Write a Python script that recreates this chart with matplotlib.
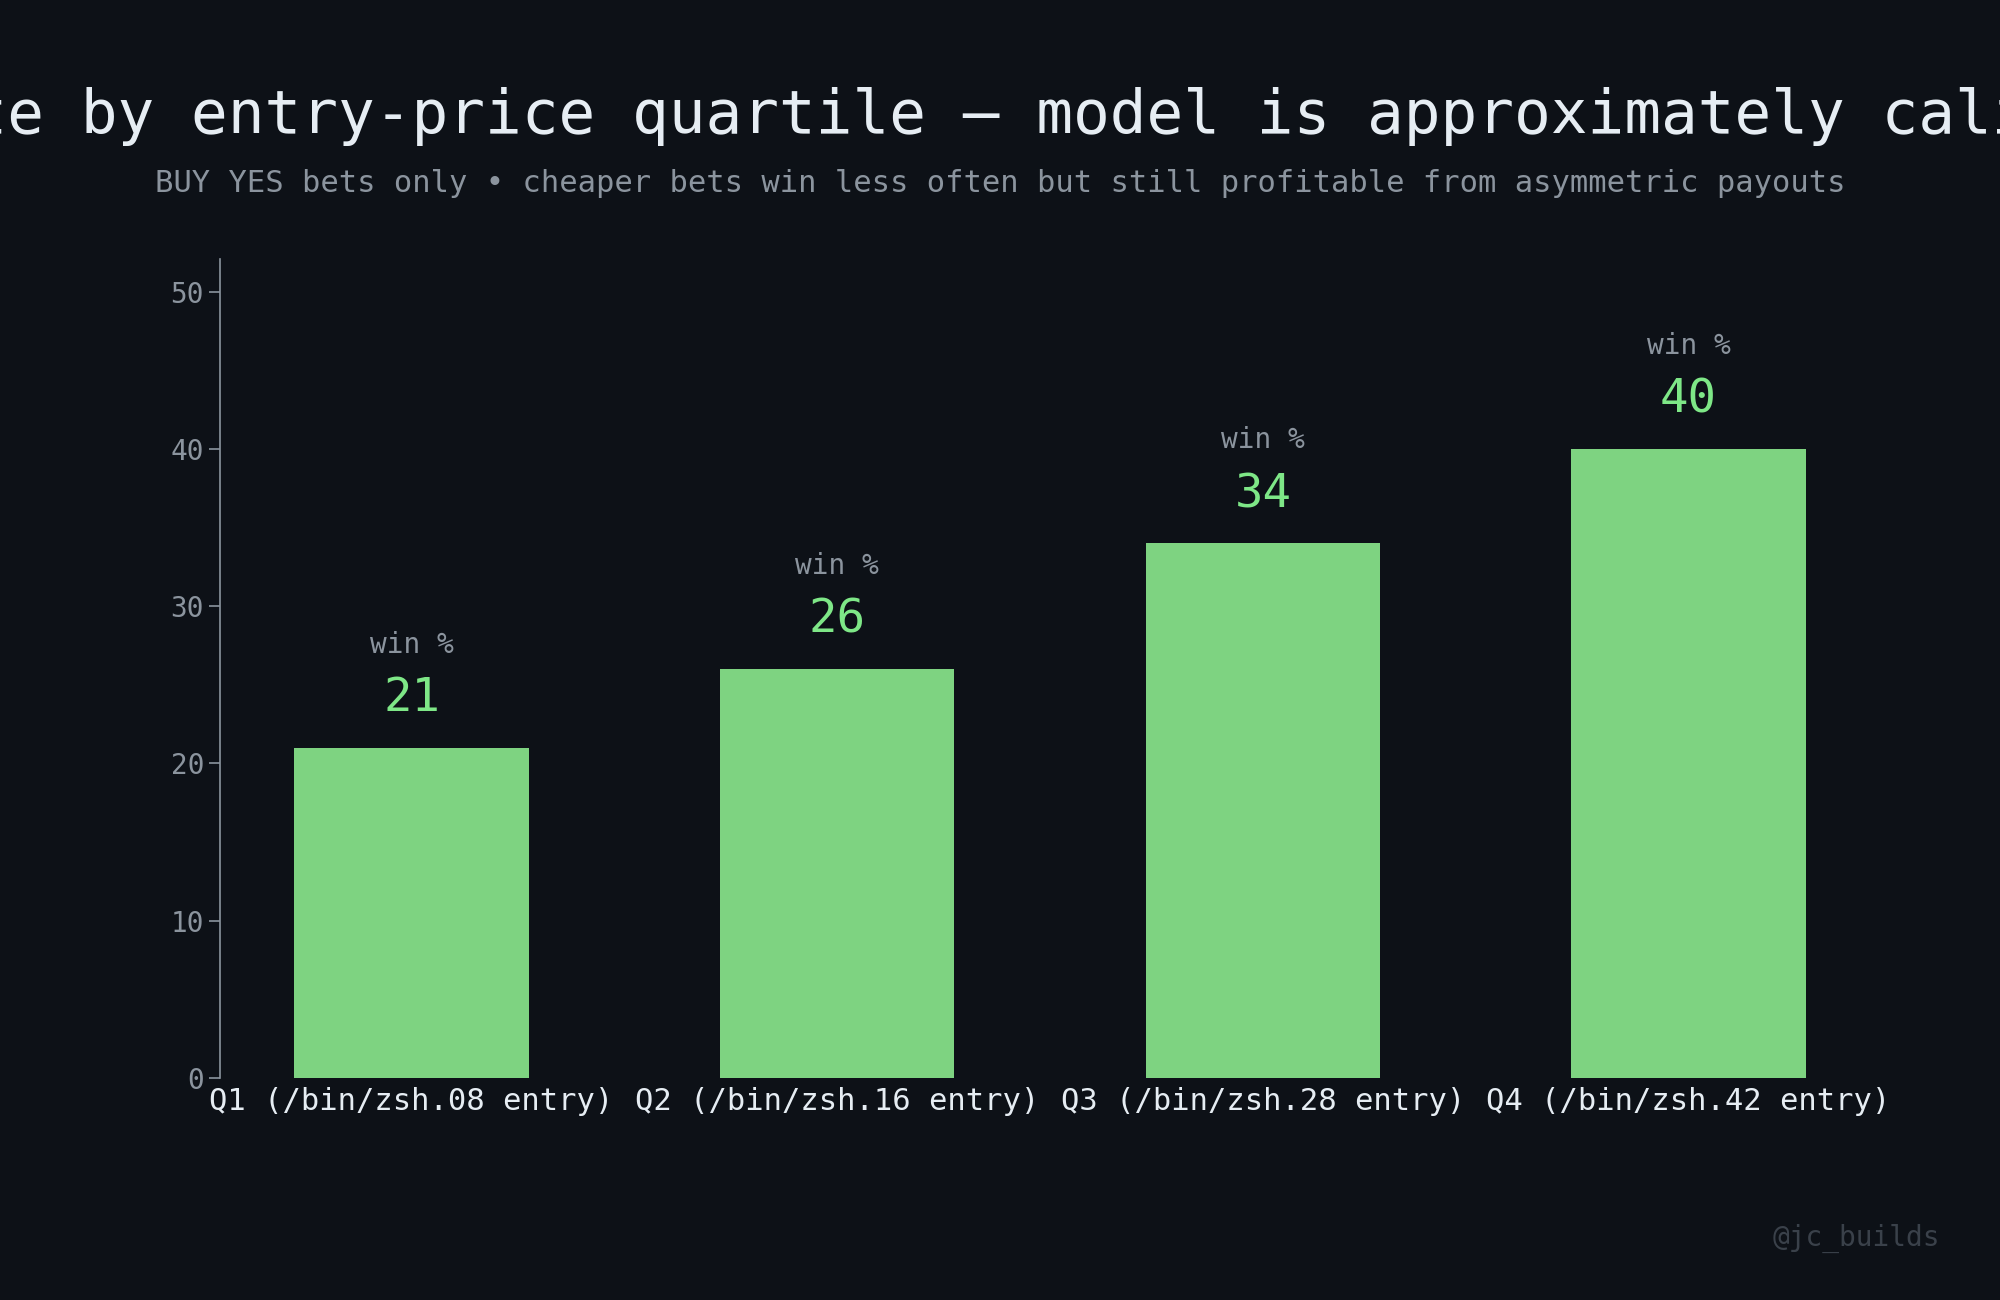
import matplotlib
matplotlib.use("Agg")
import matplotlib.pyplot as plt

# datos
quartiles = ["Q1 (/bin/zsh.08 entry)", "Q2 (/bin/zsh.16 entry)",
             "Q3 (/bin/zsh.28 entry)", "Q4 (/bin/zsh.42 entry)"]
win_pct = [21, 26, 34, 40]

BG = "#0d1117"
BAR = "#7ed381"
GRAY = "#8b949e"
LIGHT = "#e6edf3"

plt.rcParams["font.family"] = ["DejaVu Sans Mono"]

fig = plt.figure(figsize=(20, 13), dpi=100, facecolor=BG)
ax = fig.add_axes([0.11, 0.171, 0.83, 0.63], facecolor=BG)

x = range(len(quartiles))
ax.bar(x, win_pct, width=0.55, color=BAR)
for xi, v in zip(x, win_pct):
    ax.annotate(str(v), (xi, v), xytext=(0, 35), textcoords="offset points",
                ha="center", va="center", fontsize=34, color="#7ee787")
    ax.annotate("win %", (xi, v), xytext=(0, 74), textcoords="offset points",
                ha="center", va="center", fontsize=20, color=GRAY)

ax.set_xlim(-0.45, 3.45)
ax.set_ylim(0, 52.1)
ax.set_yticks([0, 10, 20, 30, 40, 50])
ax.set_xticks(list(x))
ax.set_xticklabels(quartiles, fontsize=22, color=LIGHT)
ax.tick_params(axis="x", length=0, pad=7)
ax.tick_params(axis="y", colors=GRAY, labelsize=20, length=8, width=1.2)
for s in ["top", "right", "bottom"]:
    ax.spines[s].set_visible(False)
ax.spines["left"].set_color(GRAY)
ax.spines["left"].set_linewidth(1.2)

fig.text(0.5, 0.91, "Win rate by entry-price quartile — model is approximately calibrated",
         ha="center", va="center", fontsize=44, color=LIGHT)
fig.text(0.5, 0.859, "BUY YES bets only • cheaper bets win less often but still profitable from asymmetric payouts",
         ha="center", va="center", fontsize=22, color=GRAY)
fig.text(0.97, 0.047, "@jc_builds", ha="right", va="center", fontsize=20, color="#3a414a")

fig.savefig("out.png", dpi=100, facecolor=BG)
